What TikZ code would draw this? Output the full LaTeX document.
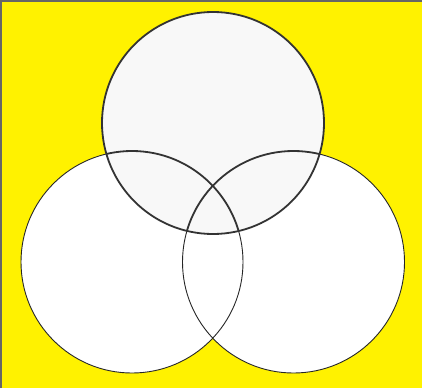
\documentclass[tikz,border=0pt]{standalone}
\definecolor{bgyellow}{HTML}{FFF200}
\definecolor{topfill}{HTML}{F8F8F8}
\tikzset{
  thinring/.style={draw=black!85, line width=0.9pt},
  thickring/.style={draw=black!80, line width=1.8pt},
}
\begin{document}
\begin{tikzpicture}[x=1pt,y=-1pt]
\useasboundingbox (0,0) rectangle (422,388);
\fill[bgyellow] (0,0) rectangle (422,388);
\draw[black!60, line width=1.5pt] (0.75,388) -- (0.75,0.75) -- (422,0.75);
% bottom circles
\coordinate (cl) at (132,262);
\coordinate (cr) at (293.5,262);
\coordinate (ct) at (213,123);
\fill[white] (cl) circle (111);
\fill[white] (cr) circle (111);
\draw[thinring] (cl) circle (111);
\draw[thinring] (cr) circle (111);
% top circle
\fill[topfill] (ct) circle (111);
\begin{scope}
  \clip (ct) circle (111);
  \draw[thickring] (cl) circle (111);
  \draw[thickring] (cr) circle (111);
\end{scope}
\draw[thickring] (ct) circle (111);
\end{tikzpicture}
\end{document}
